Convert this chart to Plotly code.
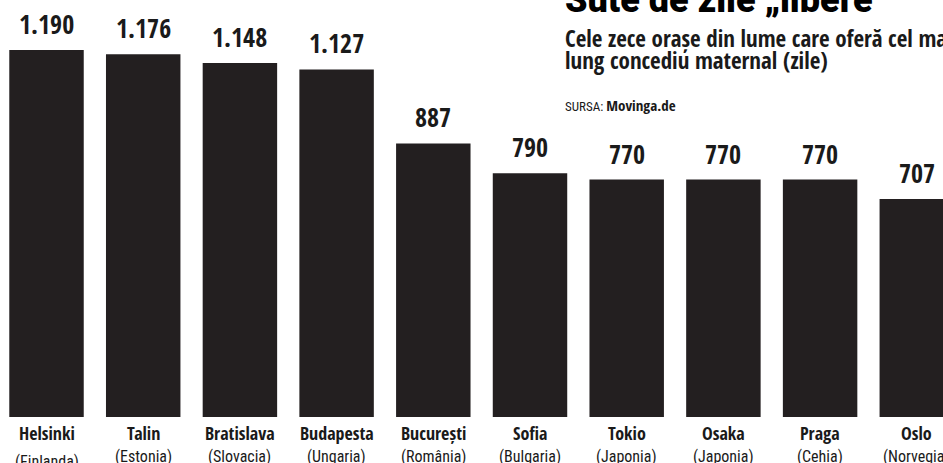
import plotly.graph_objects as go

cities = ['Helsinki', 'Talin', 'Bratislava', 'Budapesta', 'București',
          'Sofia', 'Tokio', 'Osaka', 'Praga', 'Oslo']
countries = ['Finlanda', 'Estonia', 'Slovacia', 'Ungaria', 'România',
             'Bulgaria', 'Japonia', 'Japonia', 'Cehia', 'Norvegia']
days = [1190, 1176, 1148, 1127, 887, 790, 770, 770, 770, 707]

title = 'Sute de zile „libere”'
subtitle = ['Cele zece orașe din lume care oferă cel mai', 'lung concediu maternal (zile)']
source = 'Movinga.de'

BAR = '#231f20'
INK = '#1a1a1a'
BOLD = 'Open Sans Condensed, Roboto Condensed, sans-serif'
NORMAL = 'Roboto Condensed, sans-serif'

W, H = 943, 463
X0 = 563 / W  # left edge of the header block, paper units

x = list(range(len(cities)))

fig = go.Figure()
fig.add_trace(go.Bar(x=x, y=days, marker=dict(color=BAR, line=dict(width=0)),
                     width=0.77, hoverinfo='skip'))

annotations = []
for i, (city, country, v) in enumerate(zip(cities, countries, days)):
    label = f'{v:,}'.replace(',', '.')
    annotations.append(dict(x=i, y=v, xref='x', yref='y', text=label,
                            showarrow=False, yanchor='middle', yshift=26,
                            font=dict(family=BOLD, size=26, color=INK)))
    annotations.append(dict(x=i, y=0, xref='x', yref='y', text=city,
                            showarrow=False, yanchor='middle', yshift=-16,
                            font=dict(family=BOLD, size=18, color=INK)))
    annotations.append(dict(x=i, y=0, xref='x', yref='y', text=f'({country})',
                            showarrow=False, yanchor='middle',
                            yshift=-44 if i == 0 else -39,
                            font=dict(family=NORMAL, size=16, color=INK)))

# header block, top right (cut off by the frame in the original)
annotations.append(dict(x=X0, y=1.0, xref='paper', yref='paper', text=title,
                        showarrow=False, xanchor='left', yanchor='middle', yshift=0,
                        font=dict(family='Roboto, Liberation Sans, sans-serif', size=36,
                                  weight=900, color='#000')))
for line, shift in zip(subtitle, [-38, -60]):
    annotations.append(dict(x=X0, y=1.0, xref='paper', yref='paper', text=line,
                            showarrow=False, xanchor='left', yanchor='middle', yshift=shift,
                            font=dict(family=BOLD, size=23, color=INK)))
annotations.append(dict(x=X0, y=1.0, xref='paper', yref='paper',
                        text=f'SURSA: <span style="font-family:Open Sans Condensed;font-size:15px">{source}</span>',
                        showarrow=False, xanchor='left', yanchor='middle', yshift=-105,
                        font=dict(family=NORMAL, size=13, color=INK)))

fig.update_layout(
    width=W, height=H,
    margin=dict(l=0, r=0, t=0, b=46, pad=0),
    paper_bgcolor='white', plot_bgcolor='white',
    showlegend=False,
    xaxis=dict(range=[-0.481, 9.271], visible=False, fixedrange=True),
    yaxis=dict(range=[0, 1352], visible=False, fixedrange=True),
    annotations=annotations,
)

# drop the default 8px page margin so the figure fills the window
fig.write_html('out.html', config={'displayModeBar': False},
               post_script="document.body.style.margin = '0';")
